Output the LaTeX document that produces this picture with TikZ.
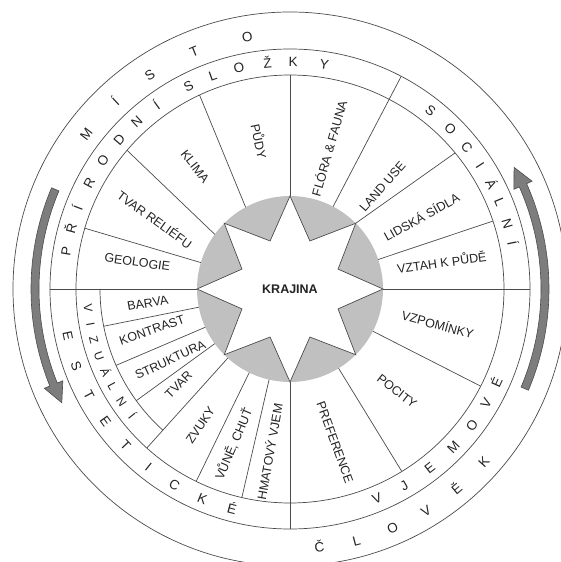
\documentclass[tikz,border=0pt]{standalone}
\usepackage{fontspec}
\setmainfont{Liberation Sans}
\usetikzlibrary{arrows.meta}
\definecolor{wline}{RGB}{75,75,75}
\definecolor{hub}{RGB}{192,192,192}
\definecolor{flow}{RGB}{125,125,125}
\definecolor{ink}{RGB}{35,35,35}
\tikzset{
  sector/.style={font=\fontsize{12.5}{13}\selectfont, text=ink, inner sep=0pt, text height=9pt, text depth=0pt},
  ringtxt/.style={font=\fontsize{13.5}{14}\selectfont, text=ink, inner sep=0pt, text height=9.7pt, text depth=0pt},
  flowarrow/.style={fill=flow, draw=flow!60!black, line width=0.6pt}
}

\begin{document}
\begin{tikzpicture}[x=1pt,y=1pt,line width=0.7pt]
  \useasboundingbox (-290,-273) rectangle (271,289);
  \clip (-290,-273) rectangle (271,289);
  % kruhy
  \draw[wline] (0,0) circle (277);
  \draw[wline] (0,0) circle (240);
  \draw[wline] (0,0) circle (214);
  \draw[wline] (180:190) arc[start angle=180, end angle=228, radius=190];
  % stred
  \fill[hub] (0,0) circle (93);
  \draw[wline, fill=white] (0:93) \foreach \a in {0,45,...,315} { -- (\a+22.5:52) -- (\a+45:93) } -- cycle;
  \node[font=\bfseries\fontsize{12.5}{13}\selectfont, text=ink] (krajina) at (0,0) {KRAJINA};
  % delici cary
  \foreach \i/\o/\r in {180/180/240, 163.5/163.5/214, 144/139.6/214, 118.5/115/214, 90/90/214,
      62.4/62.4/240, 45/39.5/214, 18.5/18.5/214, 0/0/240, -27/-27/214, -58.5/-58.5/214,
      -90/-90/240, -103/-103/214, -116/-116/214, -132/-132/214, -144/-144/190,
      -155.7/-156.3/190, -168.7/-168.7/190}
    \draw[wline] (\i:93) -- (\o:\r);
  % slozky
  \foreach \a/\r/\t/\s [count=\n] in {170/155/-8/GEOLOGIE, 153/152/-36/TVAR RELIÉFU, 127.7/155/-52/KLIMA,
      102/151/-78/PŮDY, 74.3/146/74/FLÓRA \& FAUNA, 48/138/49/LAND USE, 28.6/150/29/LIDSKÁ SÍDLA,
      9.7/154/8/VZTAH K PŮDĚ, -13.7/152/-15/VZPOMÍNKY, -43.6/148/-38/POCITY, -73.6/160/-70/PREFERENCE,
      263/164/80/HMATOVÝ VJEM, 250/165/67/{VŮNĚ, CHUŤ}, 236.6/163/56/ZVUKY, 220.6/147/45/TVAR,
      210.5/139/25/STRUKTURA, 196.5/144/19/KONTRAST, 185.6/143/10/BARVA}
    \node[sector, rotate=\t] (lab\n) at (\a:\r) {\s};
  % popisky po obvodu, nahore
  \foreach \a/\c [count=\n] in {142.8/M, 132.9/Í, 123.2/S, 112/T, 99.6/O}
    \node[ringtxt, rotate=\a-90] (misto\n) at (\a:256) {\c};
  \foreach \a/\c [count=\n] in {170.5/P, 164.5/Ř, 159/Í, 152.2/R, 145.5/O, 138.8/D, 132.5/N, 125.9/Í,
      116.6/S, 109.9/L, 103/O, 95.7/Ž, 89.2/K, 81.3/Y}
    \node[ringtxt, rotate=\a-90] (prir\n) at (\a:227) {\c};
  \foreach \a/\c [count=\n] in {51.7/S, 45/O, 38.8/C, 33.1/I, 27.5/Á, 22.5/L, 16.6/N, 11.7/Í}
    \node[ringtxt, rotate=\a-90] (soc\n) at (\a:227) {\c};
  % popisky po obvodu, dole
  \foreach \a/\c [count=\n] in {185.4/V, 190.2/I, 194.5/Z, 199.5/U, 204.4/Á, 208.8/L, 213.8/N, 218.7/Í}
    \node[ringtxt, font=\fontsize{12}{12}\selectfont, rotate=\a+90] (viz\n) at (\a:202) {\c};
  \foreach \a/\c [count=\n] in {192/E, 199.9/S, 207.8/T, 215.7/E, 223.6/T, 231.5/I, 239.4/C, 247.3/K, 255.2/É}
    \node[ringtxt, rotate=\a+90] (est\n) at (\a:227) {\c};
  \foreach \a/\c [count=\n] in {-67.5/V, -59.8/J, -52/E, -44/M, -36.8/O, -30.3/V, -24.4/É}
    \node[ringtxt, rotate=\a+90] (vjem\n) at (\a:227) {\c};
  \foreach \a/\c [count=\n] in {-83.5/Č, -75.2/L, -66.8/O, -58.5/V, -50.1/Ě, -41.8/K}
    \node[ringtxt, rotate=\a+90] (clov\n) at (\a:260) {\c};
  % sipky
  \draw[flowarrow] (157:251) arc[start angle=157, end angle=202, radius=251] -- (202:245) -- (206.5:255)
    -- (202:265) -- (202:259) arc[start angle=202, end angle=157, radius=259] -- cycle;
  \draw[flowarrow] (-23:251) arc[start angle=-23, end angle=24, radius=251] -- (24:245) -- (28.5:255)
    -- (24:265) -- (24:259) arc[start angle=24, end angle=-23, radius=259] -- cycle;
\end{tikzpicture}
\end{document}
